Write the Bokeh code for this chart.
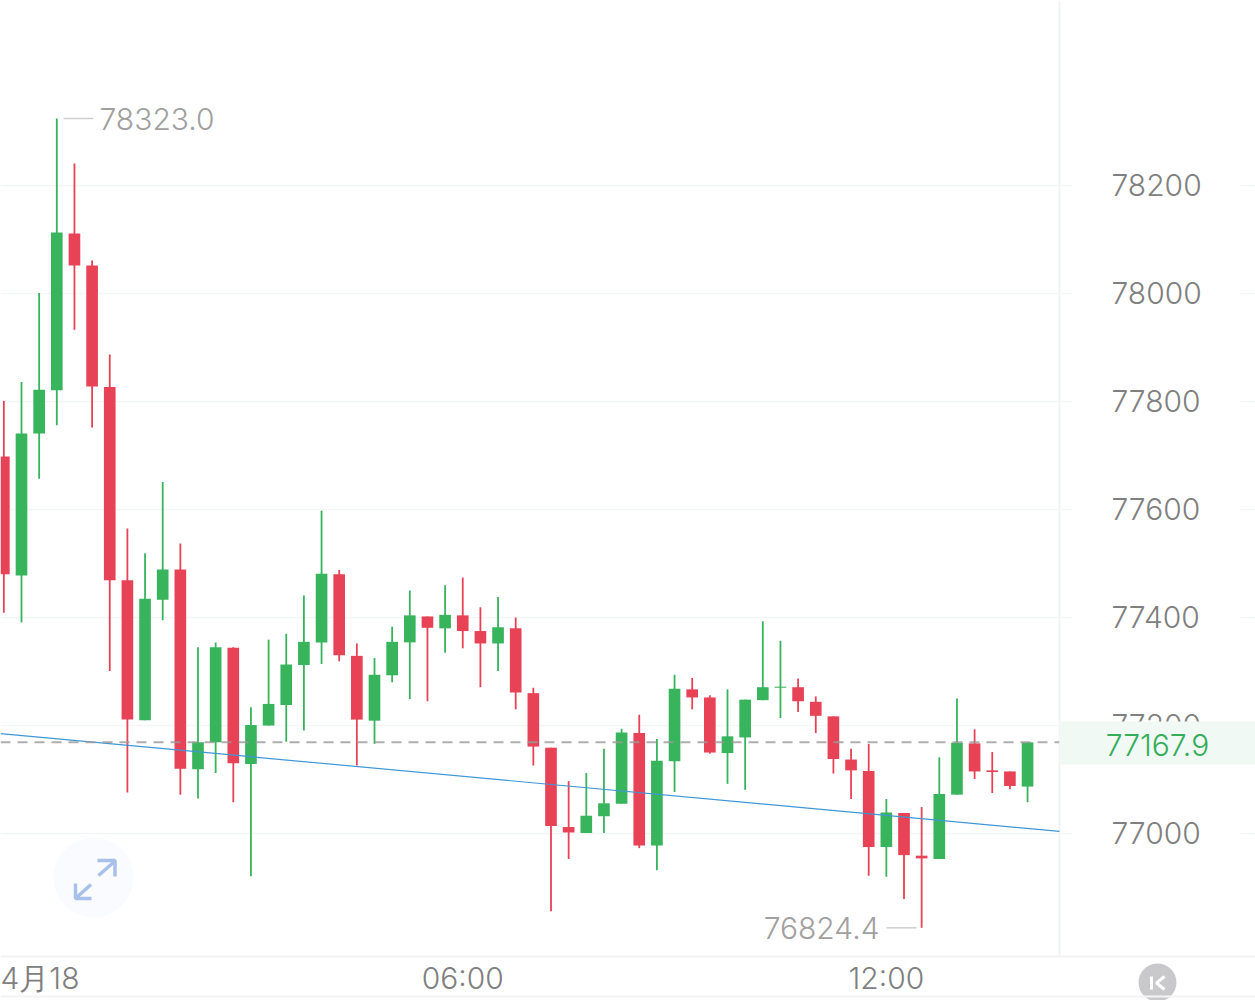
from bokeh.plotting import figure
from bokeh.models import Range1d, LinearAxis, FixedTicker, Label, BoxAnnotation, Span
from bokeh.embed import file_html
from bokeh.resources import INLINE

# candle values, in price units, 15-minute bars
highs = [77800,77835,78000,78323.0,78240,78060,77886,77564,77518,77650,77536,77344,77353,77344,77233,77358,77369,77440,77597,77487,
         77351,77324,77382,77449,77401,77459,77473,77418,77437,77399,77269,77158,77096,77111,77156,77193,77219,77174,77293,77287,
         77255,77266,77247,77392,77356,77286,77253,77216,77156,77165,77063,77037,77048,77140,77249,77192,77150,77114,77167.9]
lows = [77408,77390,77656,77755,77932,77751,77300,77075,77209,77394,77071,77064,77111,77057,76920,77199,77169,77190,77313,77318,
        77125,77165,77279,77248,77244,77334,77342,77270,77300,77229,77125,76855,76952,77000,77000,77054,76972,76931,77076,77229,
        77147,77091,77080,77246,77213,77224,77185,77110,77063,76921,76919,76878,76824.4,76952,77071,77100,77074,77081,77057]
opens = [77697,77477,77740,77820,78110,78051,77826,77468,77209,77432,77488,77118,77168,77343,77128,77199,77237,77311,77353,77479,
         77328,77208,77292,77353,77401,77379,77403,77374,77351,77379,77259,77158,77011,77000,77031,77054,77185,76977,77133,77266,
         77251,77148,77177,77246,77269,77270,77243,77216,77136,77115,76974,77037,76958,76952,77071,77166,77116,77114,77086]
closes = [77479,77740,77821,78112,78051,77827,77468,77210,77434,77488,77119,77168,77344,77129,77200,77239,77312,77354,77480,77329,
          77210,77293,77354,77403,77380,77404,77374,77351,77381,77260,77160,77013,77001,77032,77055,77186,76977,77134,77267,77251,
          77149,77179,77247,77270,77271,77244,77217,77137,77116,76974,77038,76959,76953,77072,77167,77114,77113,77087,77167.9]

last_price = 77167.9
high_price = 78323.0
low_price = 76824.4

y_ticks = [77000, 77200, 77400, 77600, 77800, 78000, 78200]
x_ticks = [2, 26, 50]
x_labels = ["4月18", "06:00", "12:00"]
trend_values = [77184, 77003]

GREEN = "#37b45c"
RED = "#e74256"
FONT = "Inter Light"
SIZE = "30px"

W, H = 1255, 1000
def fx(px):
    return (px - 3.35) / 17.65
def fy(py):
    return 77000 + (832.5 - py) / 0.54

p = figure(width=W, height=H, output_backend="svg", toolbar_location=None,
           x_range=Range1d(fx(0), fx(W)), y_range=Range1d(fy(H), fy(0)),
           x_axis_location=None, y_axis_location=None,
           min_border=0,
           background_fill_color="white", border_fill_color="white", outline_line_color=None)

# grid
yaxis = LinearAxis(ticker=FixedTicker(ticks=y_ticks), fixed_location=fx(1105),
                   axis_line_color=None, major_tick_line_color=None, minor_tick_line_color=None,
                   major_label_text_font=FONT, major_label_text_font_size=SIZE,
                   major_label_text_color="#808080", major_label_standoff=0)
p.add_layout(yaxis, "right")
p.xgrid.visible = False
p.ygrid.ticker = FixedTicker(ticks=y_ticks)
p.ygrid.grid_line_color = "#f4f5f6"
p.ygrid.grid_line_width = 1.5

xaxis = LinearAxis(ticker=FixedTicker(ticks=x_ticks),
                   major_label_overrides=dict(zip(x_ticks, x_labels)),
                   fixed_location=fy(955.5), axis_line_color="#f1f2f4", axis_line_width=2,
                   major_tick_line_color=None, minor_tick_line_color=None,
                   major_label_text_font=FONT, major_label_text_font_size=SIZE,
                   major_label_text_color="#808080", major_label_standoff=-2)
p.add_layout(xaxis, "below")

# mask between grid fragments in the price panel, below the axis
p.quad(left=[fx(1072)], right=[fx(1240)], top=[fy(0)], bottom=[fy(955)], color="white", line_color=None)
p.segment(x0=[fx(1059)], x1=[fx(1059)], y0=[fy(0)], y1=[fy(955)], line_color="#f1f3f6", line_width=2)
p.add_layout(Span(location=fy(996), dimension="width", line_color="#f3f4f5", line_width=2))

# expand button
p.scatter(x=[fx(93)], y=[fy(877)], size=80, fill_color="#f9fbfe", line_color=None)
icon_x = [[fx(97), fx(114.5), fx(114.5)], [fx(98), fx(114)], [fx(75), fx(75), fx(91)], [fx(90.5), fx(76)]]
icon_y = [[fy(860), fy(860), fy(876)], [fy(875), fy(861)], [fy(883), fy(898), fy(898)], [fy(884), fy(897)]]
p.multi_line(icon_x, icon_y, line_color="#a9c0ea", line_width=3.5)

# candles
idx = list(range(len(opens)))
cols = [GREEN if c >= o else RED for o, c in zip(opens, closes)]
p.segment(x0=idx, x1=idx, y0=lows, y1=highs, line_color=cols, line_width=1.8)
p.vbar(x=idx, width=0.66, bottom=[min(a, b) for a, b in zip(opens, closes)],
       top=[max(a, b) for a, b in zip(opens, closes)], fill_color=cols, line_color=None)

# trend and last price lines
p.line([fx(0), fx(1059)], trend_values, line_color="#3f97d6", line_width=1.2)
p.line([fx(0), fx(1059)], [last_price, last_price], line_color="#9a9a9a", line_alpha=0.8,
       line_width=2, line_dash="10 7")

# high / low markers
p.line([fx(63), fx(93)], [high_price, high_price], line_color="#cfcfcf", line_width=1.5)
p.line([fx(886), fx(916)], [low_price, low_price], line_color="#cfcfcf", line_width=1.5)
p.add_layout(Label(x=fx(99), y=high_price, text=f"{high_price:.1f}", text_font=FONT, text_font_size=SIZE,
                   text_color="#a0a0a0", text_baseline="middle", text_align="left"))
p.add_layout(Label(x=fx(879), y=low_price, text=f"{low_price:.1f}", text_font=FONT, text_font_size=SIZE,
                   text_color="#a0a0a0", text_baseline="middle", text_align="right"))

# last price box in the price panel, covering the axis label beneath it
p.add_layout(BoxAnnotation(left=fx(1059), right=fx(W), top=fy(721), bottom=fy(764),
                           fill_color="#f0f9f3", fill_alpha=1, line_color=None, level="annotation"))
p.add_layout(Label(x=fx(1157), y=fy(744), text=f"{last_price:.1f}", text_font=FONT, text_font_size=SIZE,
                   text_color="#36ad5a", text_baseline="middle", text_align="center"))

# bottom right button
p.scatter(x=[fx(1157)], y=[fy(982)], size=38, fill_color="#c9c9cb", line_color=None)
p.multi_line([[fx(1151), fx(1151)], [fx(1164), fx(1156), fx(1164)]],
             [[fy(976), fy(989)], [fy(976), fy(982.5), fy(989)]], line_color="white", line_width=3)

open("out.html", "w").write(file_html(p, INLINE))
